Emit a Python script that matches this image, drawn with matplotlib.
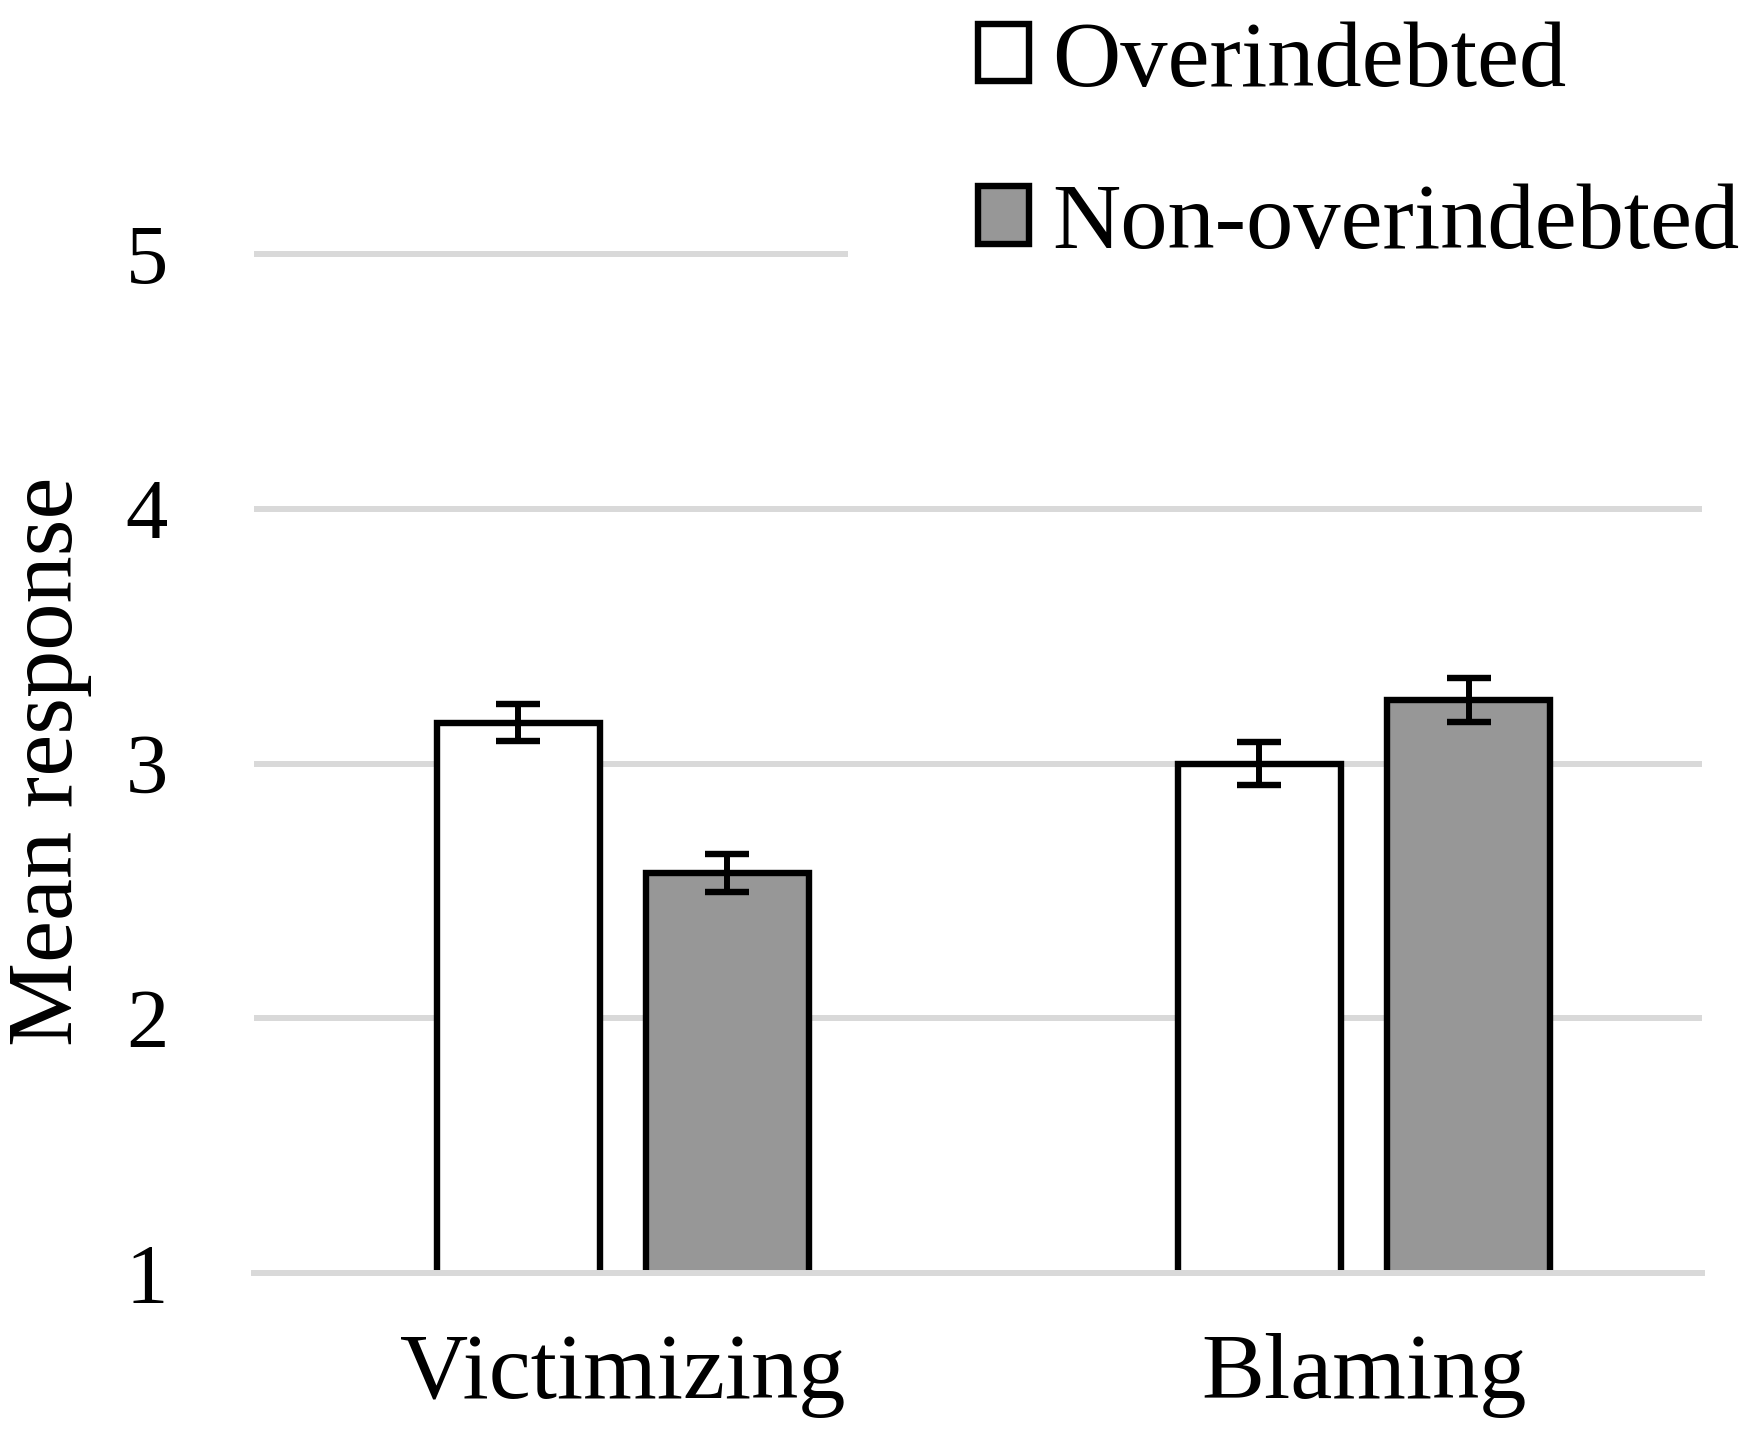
import numpy as np
from matplotlib import pyplot as plt
from matplotlib.patches import Patch

plt.rcParams['font.family'] = ['Liberation Serif', 'DejaVu Serif']

# data
categories = ["Victimizing", "Blaming"]
groups = ["Overindebted", "Non-overindebted"]
over_mean = [3.16, 3.00]
over_err = [0.072, 0.083]
nonover_mean = [2.57, 3.25]
nonover_err = [0.075, 0.086]
yticks = [1, 2, 3, 4, 5]

#%%
fig = plt.figure(figsize=(17.5, 14.44), dpi=100)
ax = fig.add_axes([0.1453, 0.1184, 0.8273, 0.7092])

x = np.arange(len(categories))
w = 0.22
off = 0.141
grey = "#979797"
edge_lw = 4.6

ax.bar(x - off, over_mean, w, color="white", edgecolor="black", linewidth=edge_lw, zorder=2)
ax.bar(x + off, nonover_mean, w, color=grey, edgecolor="black", linewidth=edge_lw, zorder=2)
ax.errorbar(x - off, over_mean, yerr=over_err, fmt="none", ecolor="black",
            elinewidth=4.3, capsize=16, capthick=4.6, zorder=3)
ax.errorbar(x + off, nonover_mean, yerr=nonover_err, fmt="none", ecolor="black",
            elinewidth=4.3, capsize=16, capthick=4.6, zorder=3)

ax.set_xlim(-0.497, 1.456)
ax.set_ylim(1, 5.02)
ax.set_yticks(yticks)
ax.set_xticks(x)
ax.set_xticklabels(categories)
ax.tick_params(axis="y", length=0, pad=62, labelsize=61)
ax.tick_params(axis="x", length=0, pad=43, labelsize=68)

ax.set_axisbelow(True)
ax.yaxis.grid(True, color="#d9d9d9", linewidth=4.3)
for s in ["top", "right", "left"]:
    ax.spines[s].set_visible(False)
ax.spines["bottom"].set_color("#d9d9d9")
ax.spines["bottom"].set_linewidth(4.3)
ax.spines["bottom"].set_zorder(4)

ax.set_ylabel("Mean response", fontsize=68, labelpad=24)

handles = [Patch(facecolor="white", edgecolor="black", linewidth=edge_lw),
           Patch(facecolor=grey, edgecolor="black", linewidth=edge_lw)]
leg = fig.legend(handles, groups, loc="upper left", bbox_to_anchor=(0.4845, 1.0759),
                 fontsize=68, frameon=True, facecolor="white", edgecolor="none",
                 framealpha=1, borderpad=1.38, borderaxespad=0, handlelength=0.54,
                 handleheight=0.56, handletextpad=0.24, labelspacing=0.82)
leg.get_frame().set_boxstyle("square", pad=0)

fig.savefig("out.png", dpi=100)
# %%
